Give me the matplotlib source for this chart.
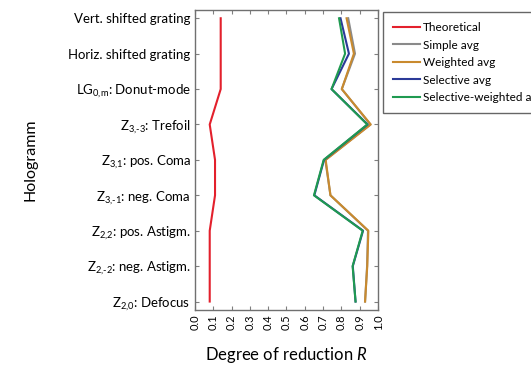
import matplotlib
matplotlib.use("Agg")
import matplotlib.pyplot as plt
import numpy as np

plt.rcParams["font.family"] = ["Lato", "DejaVu Sans"]
plt.rcParams["mathtext.fontset"] = "custom"
plt.rcParams["mathtext.rm"] = "Lato"
plt.rcParams["mathtext.it"] = "Lato:italic"

holograms = [
    "Vert. shifted grating",
    "Horiz. shifted grating",
    r"LG$_{\text{0,m}}$: Donut-mode",
    r"Z$_{\text{3,-3}}$: Trefoil",
    r"Z$_{\text{3,1}}$: pos. Coma",
    r"Z$_{\text{3,-1}}$: neg. Coma",
    r"Z$_{\text{2,2}}$: pos. Astigm.",
    r"Z$_{\text{2,-2}}$: neg. Astigm.",
    r"Z$_{\text{2,0}}$: Defocus",
]

theoretical = [0.141, 0.141, 0.141, 0.081, 0.110, 0.110, 0.081, 0.081, 0.081]
simple_avg = [0.837, 0.874, 0.802, 0.958, 0.712, 0.740, 0.945, 0.940, 0.929]
weighted_avg = [0.828, 0.868, 0.802, 0.960, 0.714, 0.740, 0.947, 0.941, 0.929]
selective_avg = [0.795, 0.841, 0.746, 0.943, 0.705, 0.652, 0.918, 0.862, 0.877]
selective_weighted_avg = [0.787, 0.820, 0.746, 0.941, 0.703, 0.650, 0.916, 0.861, 0.877]

series = [
    ("Theoretical", theoretical, "#e3202c"),
    ("Simple avg", simple_avg, "#8a8a8a"),
    ("Weighted avg", weighted_avg, "#c98a2e"),
    ("Selective avg", selective_avg, "#2b3a98"),
    ("Selective-weighted avg", selective_weighted_avg, "#1f9a50"),
]

fig = plt.figure(figsize=(5.31, 3.68), dpi=100)
ax = fig.add_axes([0.367, 0.158, 0.345, 0.815])

y = np.arange(len(holograms))
for label, values, color in series:
    ax.plot(values, y, color=color, linewidth=1.5, label=label)

ax.set_ylim(len(holograms) - 1 + 0.235, -0.235)
ax.set_xlim(0, 1.0)
ax.set_yticks(y)
ax.set_yticklabels(holograms, fontsize=9.5)
ax.set_xticks(np.arange(0, 1.01, 0.1))
ax.set_xticklabels([f"{v:.1f}" for v in np.arange(0, 1.01, 0.1)], rotation=90, fontsize=8)
ax.tick_params(direction="in", top=True, right=True, length=3, color="#808080", width=0.8, pad=3)
for spine in ax.spines.values():
    spine.set_color("#707070")
    spine.set_linewidth(1.0)

ax.set_ylabel("Hologramm", fontsize=11.5)
ax.yaxis.set_label_coords(-0.86, 0.5)
ax.set_xlabel("Degree of reduction $R$", fontsize=12, labelpad=11)

fig.legend(
    loc="upper left",
    bbox_to_anchor=(383 / 531, 1 - 12 / 368),
    borderaxespad=0,
    fontsize=8.5,
    frameon=True,
    fancybox=False,
    edgecolor="#404040",
    handlelength=2.3,
    handletextpad=0.2,
    labelspacing=0.55,
    borderpad=0.85,
)

fig.savefig("out.png", dpi=100)
